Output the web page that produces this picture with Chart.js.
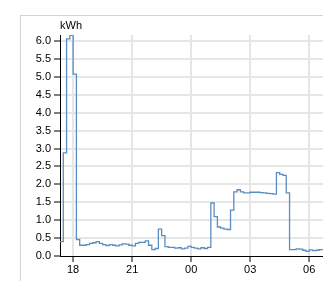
<!DOCTYPE html>
<html>
<head>
<meta charset="utf-8">
<script src="https://cdn.jsdelivr.net/npm/chart.js@4/dist/chart.umd.min.js"></script>
<style>
  body { margin: 0; background: #fff; overflow: hidden; }
  #frame { position: absolute; left: 20px; top: 15px; width: 400px; height: 400px;
           border-left: 1px solid #d4d4d4; border-top: 1px solid #d4d4d4; }
  #chartCanvas { position: absolute; left: 0; top: 0; }
</style>
</head>
<body>
<div id="frame"></div>
<canvas id="chartCanvas" width="323" height="281"></canvas>
<script>
// leituras a cada 10 minutos
const times = [
  '17:20','17:30','17:40','17:50','18:00','18:10','18:20','18:30','18:40','18:50',
  '19:00','19:10','19:20','19:30','19:40','19:50','20:00','20:10','20:20','20:30',
  '20:40','20:50','21:00','21:10','21:20','21:30','21:40','21:50','22:00','22:10',
  '22:20','22:30','22:40','22:50','23:00','23:10','23:20','23:30','23:40','23:50',
  '00:00','00:10','00:20','00:30','00:40','00:50','01:00','01:10','01:20','01:30',
  '01:40','01:50','02:00','02:10','02:20','02:30','02:40','02:50','03:00','03:10',
  '03:20','03:30','03:40','03:50','04:00','04:10','04:20','04:30','04:40','04:50',
  '05:00','05:10','05:20','05:30','05:40','05:50','06:00','06:10','06:20','06:30',
  '06:40','06:50'
];
const kwh = [
  0.40, 2.88, 6.06, 6.16, 5.08, 0.46, 0.30, 0.30, 0.32, 0.35,
  0.37, 0.40, 0.35, 0.32, 0.29, 0.32, 0.30, 0.28, 0.31, 0.34,
  0.33, 0.30, 0.28, 0.35, 0.38, 0.38, 0.42, 0.30, 0.18, 0.21,
  0.75, 0.57, 0.26, 0.24, 0.24, 0.22, 0.23, 0.20, 0.22, 0.27,
  0.24, 0.22, 0.20, 0.23, 0.21, 0.24, 1.48, 1.10, 0.81, 0.78,
  0.75, 0.74, 1.28, 1.79, 1.85, 1.79, 1.76, 1.76, 1.78, 1.78,
  1.78, 1.77, 1.76, 1.75, 1.74, 1.73, 2.33, 2.28, 2.25, 1.76,
  0.18, 0.18, 0.20, 0.19, 0.16, 0.13, 0.17, 0.15, 0.16, 0.18,
  0.18, 0.18
];
const xTicks = [18, 21, 24, 27, 30];
const yTicks = [0, 0.5, 1, 1.5, 2, 2.5, 3, 3.5, 4, 4.5, 5, 5.5, 6];
const unitLabel = 'kWh';

// hora -> número contínuo (depois da meia-noite soma 24)
function toHour(t) {
  const [h, m] = t.split(':').map(Number);
  const v = h + m / 60;
  return v < 12 ? v + 24 : v;
}

const points = times.map((t, i) => ({ x: toHour(t), y: kwh[i] }));

Chart.defaults.font.family = '"Liberation Sans", Arial, sans-serif';
Chart.defaults.font.size = 11;
Chart.defaults.color = '#000';

const unitPlugin = {
  id: 'unitLabel',
  afterDraw(chart) {
    const ctx = chart.ctx;
    ctx.save();
    ctx.font = '11px "Liberation Sans", Arial, sans-serif';
    ctx.fillStyle = '#000';
    ctx.textBaseline = 'alphabetic';
    ctx.textAlign = 'left';
    ctx.fillText(unitLabel, chart.chartArea.left, 29);
    ctx.restore();
  }
};

const ctx = document.getElementById('chartCanvas').getContext('2d');
new Chart(ctx, {
  type: 'line',
  data: {
    datasets: [{
      data: points,
      stepped: true,
      borderColor: '#5a8dc3',
      borderWidth: 1.3,
      pointRadius: 0,
      fill: false
    }]
  },
  options: {
    responsive: false,
    animation: false,
    devicePixelRatio: 1,
    layout: { padding: { top: 35, left: 0, right: 0, bottom: 0 } },
    plugins: { legend: { display: false }, tooltip: { enabled: false } },
    scales: {
      x: {
        type: 'linear',
        min: toHour('17:20'),
        max: 30.7,
        afterBuildTicks: s => { s.ticks = xTicks.map(v => ({ value: v })); },
        afterFit: s => { s.height = 25; },
        ticks: {
          maxRotation: 0,
          padding: 1,
          callback: v => String(v % 24).padStart(2, '0')
        },
        grid: { color: '#e6e6e6', lineWidth: 2, tickColor: '#000', tickWidth: 1, tickLength: 6 },
        border: { color: '#000', width: 1 }
      },
      y: {
        min: 0,
        max: 6.17,
        afterBuildTicks: s => { s.ticks = yTicks.map(v => ({ value: v })); },
        afterFit: s => { s.width = 60; },
        ticks: { padding: 3, callback: v => v.toFixed(1) },
        grid: {
          color: c => c.tick && c.tick.value === 0 ? 'rgba(0,0,0,0)' : '#e6e6e6',
          lineWidth: 2, tickColor: '#000', tickWidth: 1, tickLength: 6
        },
        border: { color: '#000', width: 1 }
      }
    }
  },
  plugins: [unitPlugin]
});
</script>
</body>
</html>
